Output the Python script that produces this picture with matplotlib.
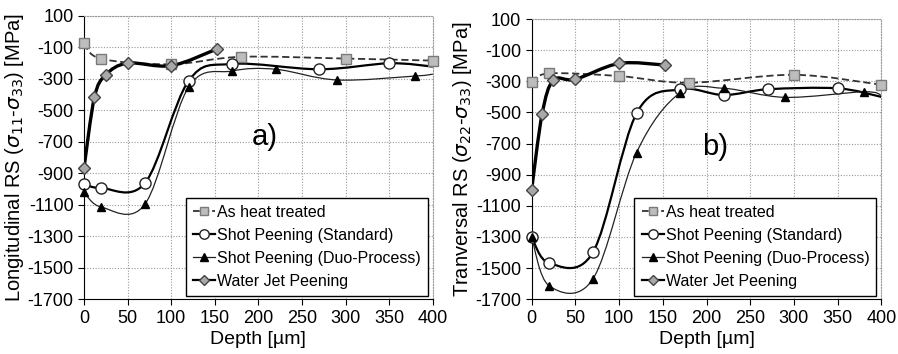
import numpy as np
import matplotlib.pyplot as plt
from matplotlib.path import Path
from matplotlib.patches import PathPatch
from matplotlib.lines import Line2D

plt.rcParams['font.family'] = ['Liberation Sans', 'DejaVu Sans']
plt.rcParams['axes.unicode_minus'] = False

# (a) longitudinal
a_heat_x = [0, 20, 100, 180, 300, 400]
a_heat_y = [-75, -173, -207, -160, -171, -184]
a_std_x = [0, 20, 70, 120, 170, 270, 350, 400]
a_std_y = [-968, -994, -962, -313, -205, -239, -201, -222]
a_duo_x = [0, 20, 70, 120, 170, 220, 290, 380, 400]
a_duo_y = [-1020, -1115, -1096, -352, -250, -239, -307, -282, -270]
a_wjp_x = [0, 12, 25, 50, 100, 152]
a_wjp_y = [-869, -417, -275, -200, -216, -111]

# (b) transversal
b_heat_x = [0, 20, 100, 180, 300, 400]
b_heat_y = [-305, -249, -266, -309, -258, -322]
b_std_x = [0, 20, 70, 120, 170, 220, 270, 350, 400]
b_std_y = [-1300, -1468, -1400, -506, -351, -388, -351, -345, -400]
b_duo_x = [0, 20, 70, 120, 170, 220, 290, 380, 400]
b_duo_y = [-1300, -1614, -1571, -758, -373, -345, -403, -367, -390]
b_wjp_x = [0, 12, 25, 50, 100, 152]
b_wjp_y = [-998, -510, -292, -287, -185, -195]

xticks = np.arange(0, 401, 50)
yticks = np.arange(-1700, 101, 200)


# smooth line like a spreadsheet "smoothed line" (Bezier through the points)
def smooth_path(x, y):
    p = np.column_stack([x, y]).astype(float)
    n = len(p)
    verts = [p[0]]
    codes = [Path.MOVETO]
    for i in range(n - 1):
        p0 = p[i - 1] if i > 0 else p[i]
        p3 = p[i + 2] if i + 2 < n else p[i + 1]
        c1 = p[i] + (p[i + 1] - p0) / 6
        c2 = p[i + 1] - (p3 - p[i]) / 6
        verts += [c1, c2, p[i + 1]]
        codes += [Path.CURVE4] * 3
    return Path(verts, codes)


styles = {
    'heat': dict(color='#333333', lw=1.3, ls=(0, (4, 2)), marker='s', ms=7,
                 mfc='#bdbdbd', mec='#7a7a7a', label='As heat treated', last=True),
    'std': dict(color='black', lw=1.6, ls='-', marker='o', ms=8,
                mfc='white', mec='#222222', label='Shot Peening (Standard)', last=False),
    'duo': dict(color='#222222', lw=0.9, ls='-', marker='^', ms=6,
                mfc='black', mec='black', label='Shot Peening (Duo-Process)', last=False),
    'wjp': dict(color='black', lw=2.4, ls='-', marker='D', ms=6,
                mfc='#a8a8a8', mec='#444444', label='Water Jet Peening', last=True),
}


def draw(ax, series, ylabel, tag, tag_xy):
    handles = []
    for key, x, y in series:
        st = styles[key]
        ax.add_patch(PathPatch(smooth_path(x, y), fc='none', ec=st['color'],
                               lw=st['lw'], ls=st['ls'], zorder=3))
        mk = list(range(len(x))) if st['last'] else list(range(len(x) - 1))
        ax.plot(x, y, ls='none', marker=st['marker'], ms=st['ms'], mfc=st['mfc'],
                mec=st['mec'], mew=1, zorder=4, markevery=mk, clip_on=False)
        lst = '--' if key == 'heat' else '-'
        handles.append(Line2D([], [], color=st['color'], lw=min(st['lw'], 1.6), ls=lst,
                              marker=st['marker'], ms=st['ms'], mfc=st['mfc'],
                              mec=st['mec'], label=st['label']))
    ax.set_xlim(0, 400)
    ax.set_ylim(-1700, 100)
    ax.set_xticks(xticks)
    ax.set_yticks(yticks)
    ax.grid(True, color='#999999', ls=(0, (1, 1.5)), lw=0.8)
    ax.set_axisbelow(True)
    for s in ['top', 'right']:
        ax.spines[s].set_color('#999999')
        ax.spines[s].set_linestyle((0, (1, 1.5)))
        ax.spines[s].set_linewidth(0.8)
    ax.tick_params(labelsize=13, length=4, direction='out')
    ax.set_xlabel('Depth [µm]', fontsize=14, labelpad=3)
    ax.set_ylabel(ylabel, fontsize=14.5, labelpad=1)
    ax.text(tag_xy[0], tag_xy[1], tag, fontsize=21, ha='center', va='center')
    leg = ax.legend(handles=handles, loc='lower right', bbox_to_anchor=(0.995, 0.0),
                    fontsize=11.5, frameon=True, fancybox=False, edgecolor='black',
                    handlelength=1.4, handletextpad=0.1, borderpad=0.45,
                    labelspacing=0.5, borderaxespad=0.2, markerscale=0.85)
    leg.get_frame().set_linewidth(1.0)
    leg.get_frame().set_alpha(1)


fig = plt.figure(figsize=(8.98, 3.54), dpi=100)
ax1 = fig.add_axes([0.0935, 0.155, 0.3885, 0.80])
ax2 = fig.add_axes([0.592, 0.155, 0.3895, 0.791])

draw(ax1, [('heat', a_heat_x, a_heat_y), ('std', a_std_x, a_std_y),
           ('duo', a_duo_x, a_duo_y), ('wjp', a_wjp_x, a_wjp_y)],
     r'Longitudinal RS ($\sigma_{11}$-$\sigma_{33}$) [MPa]', 'a)', (207, -670))
draw(ax2, [('heat', b_heat_x, b_heat_y), ('std', b_std_x, b_std_y),
           ('duo', b_duo_x, b_duo_y), ('wjp', b_wjp_x, b_wjp_y)],
     r'Tranversal RS ($\sigma_{22}$-$\sigma_{33}$) [MPa]', 'b)', (210, -720))

fig.savefig('out.png', dpi=100)
